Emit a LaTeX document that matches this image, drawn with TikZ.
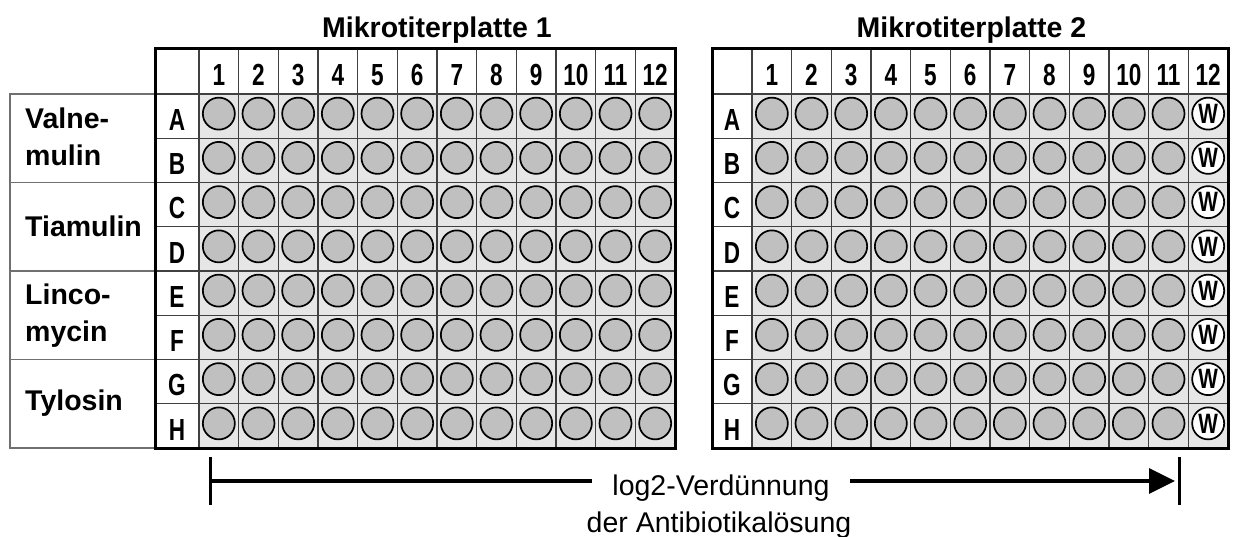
\documentclass[tikz,border=0pt]{standalone}
\usepackage{fontspec}
\setmainfont{Liberation Sans}
\newfontfamily\narrowfont[FakeStretch=0.74]{Liberation Sans}
\usetikzlibrary{arrows.meta}
\definecolor{cellgray}{HTML}{E6E6E6}
\definecolor{wellgray}{HTML}{C0C0C0}
\definecolor{gridgray}{HTML}{404040}
\definecolor{boxgray}{HTML}{707070}
\begin{document}
\begin{tikzpicture}[x=1pt,y=-1pt,
  platetitle/.style={font=\fontsize{28.5}{34}\selectfont\bfseries, anchor=base, inner sep=0pt},
  colnum/.style={font=\narrowfont\bfseries\fontsize{30.5}{34}\selectfont, anchor=base, inner sep=0pt},
  rowlet/.style={font=\narrowfont\bfseries\fontsize{30.5}{32}\selectfont, anchor=base, inner sep=0pt},
  drug/.style={font=\fontsize{28.5}{37}\selectfont\bfseries, anchor=west, align=left, inner sep=0pt},
  well/.style={circle, draw=black, line width=1.7pt, fill=wellgray, minimum size=32pt, inner sep=0pt},
  wwell/.style={well, fill=white, font=\narrowfont\bfseries\fontsize{28}{28}\selectfont},
  plateborder/.style={line width=3pt},
  gridline/.style={draw=gridgray, line width=1.2pt},
  boxline/.style={draw=boxgray, line width=1.5pt},
  bartick/.style={line width=3pt},
  dilline/.style={line width=3.5pt},
  dil/.style={font=\fontsize{28.5}{34}\selectfont, anchor=base, inner xsep=20pt, inner ysep=0pt}
]
\useasboundingbox (0,0) rectangle (1233,536);

% drug label box
\draw[boxline] (10,94) rectangle (155,448);
\foreach \yy in {182.5,271,359.5} \draw[boxline] (10,\yy) -- (155,\yy);
\node[drug] (valnemulin) at (25,137) {Valne-\\mulin};
\node[drug] (tiamulin) at (25,226.5) {Tiamulin};
\node[drug] (lincomycin) at (25,316) {Linco-\\mycin};
\node[drug] (tylosin) at (25,403.5) {Tylosin};

% plates
\foreach \p/\L/\C in {1/155/199,2/712/752} {
  \pgfmathsetmacro\R{\C+12*39.667}
  \fill[cellgray] (\C,94) rectangle (\R,448);
  \foreach \k in {0,...,11} \draw[gridline] ({\C+\k*39.667},48) -- ({\C+\k*39.667},448);
  \foreach \j in {0,...,7} \draw[gridline] (\L,{94+\j*44.25}) -- (\R,{94+\j*44.25});
  \draw[plateborder] (\L,48) rectangle (\R,448);
  \foreach \c in {1,...,12} \node[colnum] (p\p-h\c) at ({\C+(\c-0.5)*39.667},85) {\c};
  \foreach \r [count=\j from 0] in {A,B,C,D,E,F,G,H} {
    \node[rowlet] (p\p-\r) at ({(\L+\C)/2},{94+(\j+1)*44.25-8}) {\r};
    \foreach \c in {1,...,12} {
      \pgfmathtruncatemacro\isw{and(\p==2,\c==12)}
      \ifnum\isw=1
        \node[wwell] (p\p-\r\c) at ({\C+(\c-0.5)*39.667},{94+(\j+0.5)*44.25-2.5}) {W};
      \else
        \node[well] (p\p-\r\c) at ({\C+(\c-0.5)*39.667},{94+(\j+0.5)*44.25-2.5}) {};
      \fi
    }
  }
}

% titles
\node[platetitle] (title1) at (437,37.5) {Mikrotiterplatte 1};
\node[platetitle] (title2) at (971.5,37.5) {Mikrotiterplatte 2};

% dilution arrow
\coordinate (dstart) at (210,481);
\coordinate (dend) at (1175,481);
\coordinate (bar1t) at (210,457);
\coordinate (bar1b) at (210,505);
\coordinate (bar2t) at (1179,457);
\coordinate (bar2b) at (1179,505);
\node[dil] (dil1) at (721,495) {log2-Verdünnung};
\node[dil] (dil2) at (719,532) {der Antibiotikalösung};
\draw[bartick] (bar1t) -- (bar1b);
\draw[bartick] (bar2t) -- (bar2b);
\draw[dilline] (dstart) -- (dil1.west |- dstart);
\draw[dilline, -{Triangle[length=26pt,width=25pt]}] (dil1.east |- dstart) -- (dend);
\end{tikzpicture}
\end{document}
